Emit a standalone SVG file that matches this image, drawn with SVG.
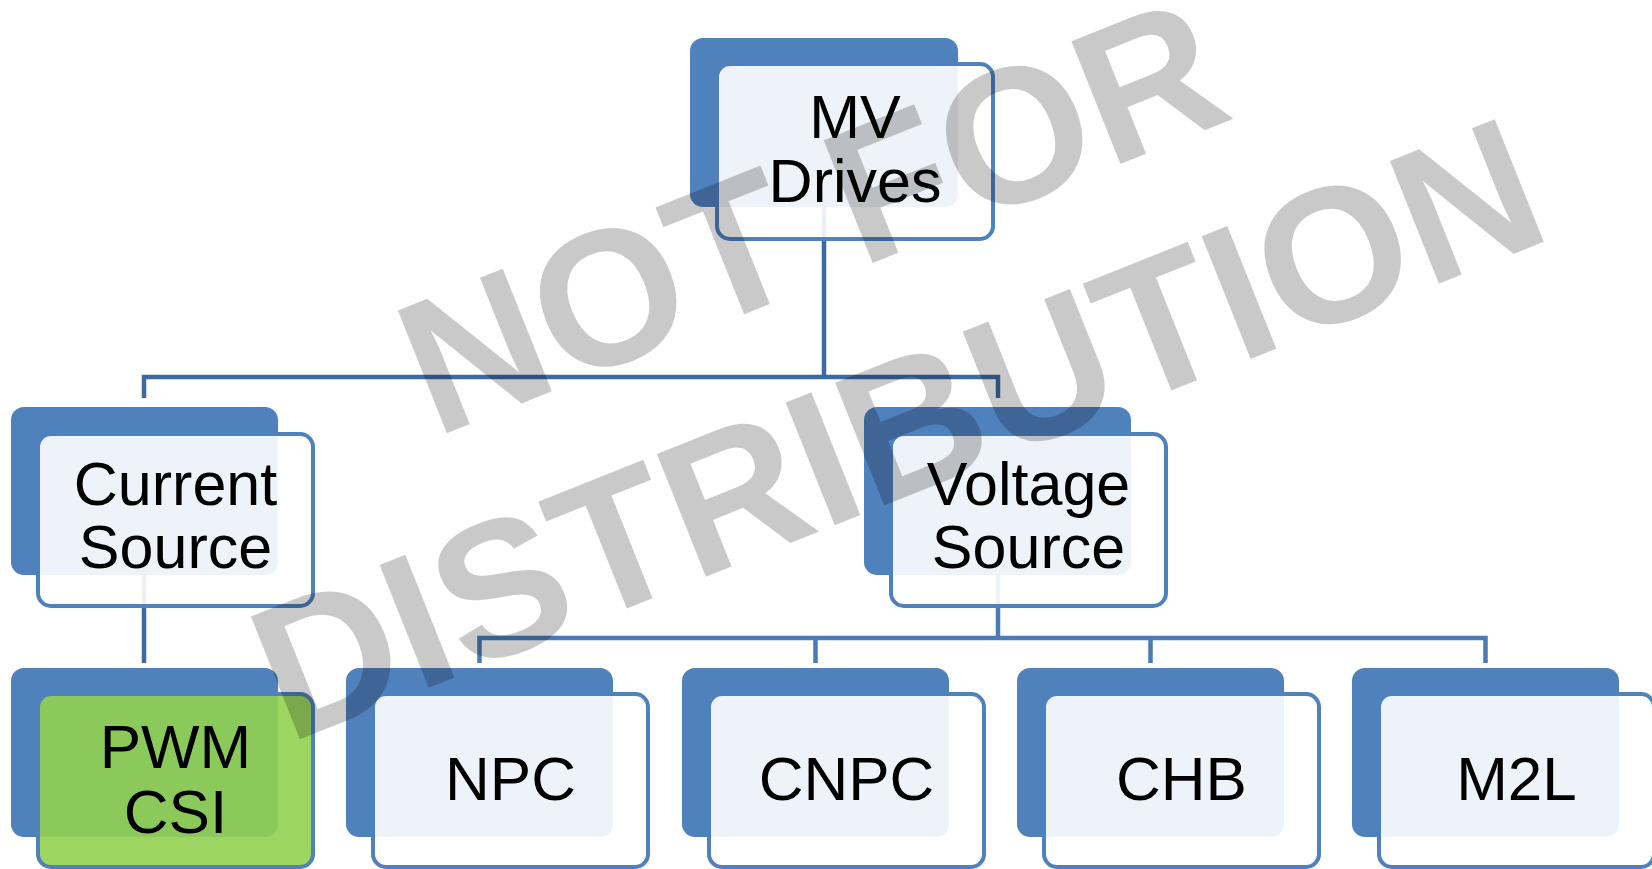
<svg xmlns="http://www.w3.org/2000/svg" width="1652" height="869" viewBox="0 0 1652 869">
<style>
.back{fill:#4F81BD}
.front{fill:#FFFFFF;fill-opacity:0.9;stroke:#4F81BD;stroke-width:4}
.green{fill:#92D050;fill-opacity:0.9;stroke:#4F81BD;stroke-width:4}
.lbl{font-family:"Liberation Sans",Arial,sans-serif;fill:#000;text-anchor:middle}
.l1{font-size:61px}
.l2{font-size:62px}
.c1{fill:none;stroke:#3E6A9F;stroke-width:4.5}
.c2{fill:none;stroke:#4A7BB7;stroke-width:4.5}
.wm{font-family:"Liberation Sans",Arial,sans-serif;font-weight:bold;font-size:192px;fill:#000;fill-opacity:0.21}
</style>
<rect width="1652" height="869" fill="#FFFFFF"/>
<g id="connectors">
<path class="c1" d="M824,200 V377 M144,398 V377 H998 V398"/>
<path class="c1" d="M144,560 V663"/>
<path class="c2" d="M998,560 V638 M479.5,663 V638 H1485.5 V663 M815.5,638 V663 M1150.5,638 V663"/>
</g>
<g id="node-mv-drives">
<rect class="back" x="690" y="38" width="268" height="169" rx="13"/>
<rect class="front" x="717" y="64" width="276" height="175" rx="13"/>
<text class="lbl l1" x="855" y="138">MV</text>
<text class="lbl l1" x="855" y="202">Drives</text>
</g>
<g id="node-current-source">
<rect class="back" x="11" y="407" width="267" height="168" rx="13"/>
<rect class="front" x="38" y="434" width="275" height="172" rx="13"/>
<text class="lbl l1" x="175.5" y="505">Current</text>
<text class="lbl l1" x="175.5" y="568">Source</text>
</g>
<g id="node-voltage-source">
<rect class="back" x="864" y="407" width="267" height="168" rx="13"/>
<rect class="front" x="891" y="434" width="275" height="172" rx="13"/>
<text class="lbl l1" x="1028.5" y="505">Voltage</text>
<text class="lbl l1" x="1028.5" y="568">Source</text>
</g>
<g id="node-pwm-csi">
<rect class="back" x="11" y="668" width="267" height="169" rx="13"/>
<rect class="green" x="38" y="694" width="275" height="173" rx="13"/>
<text class="lbl l2" x="175.5" y="768">PWM</text>
<text class="lbl l2" x="175.5" y="833">CSI</text>
</g>
<g id="node-npc">
<rect class="back" x="346" y="668" width="267" height="169" rx="13"/>
<rect class="front" x="373" y="694" width="275" height="173" rx="13"/>
<text class="lbl l2" x="510.5" y="800">NPC</text>
</g>
<g id="node-cnpc">
<rect class="back" x="682" y="668" width="267" height="169" rx="13"/>
<rect class="front" x="709" y="694" width="275" height="173" rx="13"/>
<text class="lbl l2" x="846.5" y="800">CNPC</text>
</g>
<g id="node-chb">
<rect class="back" x="1017" y="668" width="267" height="169" rx="13"/>
<rect class="front" x="1044" y="694" width="275" height="173" rx="13"/>
<text class="lbl l2" x="1181.5" y="800">CHB</text>
</g>
<g id="node-m2l">
<rect class="back" x="1352" y="668" width="267" height="169" rx="13"/>
<rect class="front" x="1379" y="694" width="275" height="173" rx="13"/>
<text class="lbl l2" x="1516.5" y="800">M2L</text>
</g>
<g id="watermark">
<text class="wm" x="435" y="438" transform="rotate(-21.8 435 438)">NOT FOR</text>
<text class="wm" x="288" y="744" transform="rotate(-21.8 288 744)">DISTRIBUTION</text>
</g>
</svg>
